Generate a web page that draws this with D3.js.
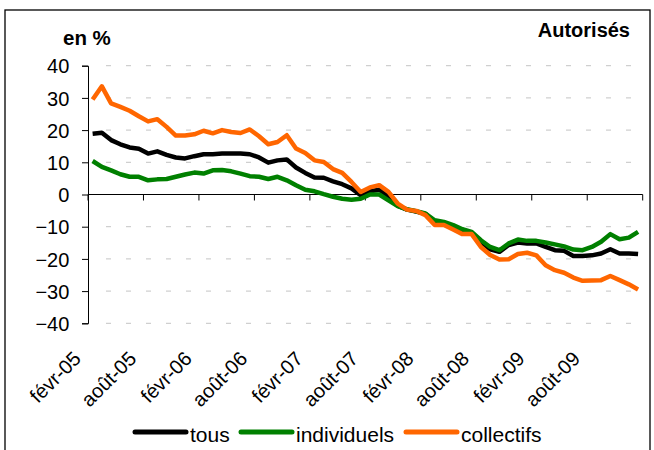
<!DOCTYPE html>
<html>
<head>
<meta charset="utf-8">
<script src="https://cdn.jsdelivr.net/npm/d3@7"></script>
<style>
  body { margin: 0; background: #fff; }
  text { font-family: Arial, "Liberation Sans", sans-serif; fill: #000; }
</style>
</head>
<body>
<svg width="654" height="450"></svg>
<script>
// monthly categories, févr-05 .. janv-10
const moisAbr = ['janv', 'févr', 'mars', 'avr', 'mai', 'juin', 'juil', 'août', 'sept', 'oct', 'nov', 'déc'];
const months = [];
for (let i = 0; i < 60; i++) {
  const m = (1 + i) % 12, yr = 5 + Math.floor((1 + i) / 12);
  months.push(moisAbr[m] + '-' + String(yr).padStart(2, '0'));
}
const tickLabels = ['févr-05', 'août-05', 'févr-06', 'août-06', 'févr-07', 'août-07', 'févr-08', 'août-08', 'févr-09', 'août-09'];
const yTicks = [40, 30, 20, 10, 0, -10, -20, -30, -40];

const tous = [18.9, 19.2, 16.9, 15.6, 14.6, 14.2, 12.7, 13.4, 12.3, 11.5,
  11.2, 11.9, 12.5, 12.5, 12.7, 12.7, 12.7, 12.5, 11.5, 9.9,
  10.6, 10.9, 8.4, 6.7, 5.3, 5.2, 4.1, 3.2, 1.9, -0.2,
  1.0, 1.5, -0.5, -3.5, -4.7, -5.3, -6.0, -8.5, -9.0, -10.0,
  -11.3, -12.0, -14.8, -17.0, -17.8, -15.7, -14.9, -15.2, -15.2, -16.3,
  -17.3, -17.5, -19.1, -19.1, -18.9, -18.3, -17.0, -18.3, -18.3, -18.5];
const individuels = [10.4, 8.6, 7.5, 6.3, 5.5, 5.5, 4.4, 4.7, 4.8, 5.5,
  6.2, 6.8, 6.5, 7.5, 7.6, 7.2, 6.5, 5.7, 5.5, 4.8,
  5.5, 4.4, 2.9, 1.5, 1.0, 0.1, -0.7, -1.3, -1.6, -1.3,
  0.0, 0.0, -1.8, -3.6, -4.6, -5.2, -5.9, -8.0, -8.5, -9.5,
  -10.8, -11.6, -14.2, -16.3, -17.3, -15.2, -14.0, -14.4, -14.4, -14.9,
  -15.5, -16.1, -17.1, -17.3, -16.3, -14.7, -12.3, -13.9, -13.4, -11.6];
const collectifs = [29.5, 33.6, 28.3, 27.2, 26.0, 24.3, 22.7, 23.4, 21.0, 18.3,
  18.3, 18.7, 19.8, 19.0, 20.0, 19.4, 19.1, 20.2, 18.1, 15.6,
  16.3, 18.4, 14.3, 12.9, 10.6, 10.1, 7.9, 6.7, 3.9, 0.8,
  2.2, 2.9, 0.8, -2.8, -4.7, -5.1, -6.4, -9.5, -9.5, -10.9,
  -12.3, -12.3, -16.3, -18.8, -20.2, -20.1, -18.5, -18.1, -18.9, -22.0,
  -23.5, -24.3, -25.8, -26.8, -26.7, -26.6, -25.3, -26.6, -27.9, -29.5];

const series = [
  { name: 'tous', values: tous, color: '#000000' },
  { name: 'individuels', values: individuels, color: '#008000' },
  { name: 'collectifs', values: collectifs, color: '#ff6600' }
];

const svg = d3.select('svg');

// outer frame
svg.append('rect')
  .attr('x', 5).attr('y', 10).attr('width', 645).attr('height', 460)
  .attr('fill', 'none').attr('stroke', '#000').attr('stroke-width', 1.3);

const x = d3.scaleBand().domain(months).range([88, 642.7]);
const y = d3.scaleLinear().domain([-40, 40]).range([323.3, 65.7]);
const cx = d => x(d) + x.bandwidth() / 2;

// gridlines
svg.append('g').selectAll('line')
  .data(yTicks.filter(d => d !== 0))
  .enter().append('line')
    .attr('x1', 106).attr('x2', 642.7)
    .attr('y1', d => y(d)).attr('y2', d => y(d))
    .attr('stroke', '#c4c4c4').attr('stroke-width', 1)
    .attr('stroke-dasharray', '5,15');

// y axis
const yAxis = svg.append('g')
  .attr('transform', 'translate(88,0)')
  .call(d3.axisLeft(y).tickValues(yTicks).tickSize(6).tickPadding(12.7).tickFormat(d3.format('d')));
yAxis.select('.domain').attr('stroke', '#000');
yAxis.selectAll('.tick line').attr('stroke', '#000');
yAxis.selectAll('text').style('font-size', '20px').attr('dy', '0.36em');

// x axis at zero
const tickIdx = d3.range(0, 61, 6);
const xa = svg.append('g');
xa.append('line')
  .attr('x1', 88).attr('x2', 642.7)
  .attr('y1', y(0)).attr('y2', y(0))
  .attr('stroke', '#000').attr('stroke-width', 1);
xa.selectAll('.tk')
  .data(tickIdx)
  .enter().append('line')
    .attr('class', 'tk')
    .attr('x1', i => i < 60 ? x(months[i]) : x.range()[1])
    .attr('x2', i => i < 60 ? x(months[i]) : x.range()[1])
    .attr('y1', y(0)).attr('y2', y(0) + 6)
    .attr('stroke', '#000');

// rotated category labels
svg.append('g').selectAll('text')
  .data(tickLabels)
  .enter().append('text')
    .attr('transform', d => 'translate(' + (cx(d) - 10.5) + ',360) rotate(-45)')
    .attr('text-anchor', 'end')
    .style('font-size', '20px')
    .text(d => d);

// lines
const line = d3.line()
  .x((d, i) => cx(months[i]))
  .y(d => y(d));

svg.append('g').selectAll('path')
  .data(series)
  .enter().append('path')
    .attr('d', d => line(d.values))
    .attr('fill', 'none')
    .attr('stroke', d => d.color)
    .attr('stroke-width', 4.5)
    .attr('stroke-linejoin', 'round');

// titles
svg.append('text').attr('x', 63).attr('y', 45)
  .style('font-size', '20.5px').style('font-weight', 'bold').text('en %');
svg.append('text').attr('x', 630).attr('y', 37).attr('text-anchor', 'end')
  .style('font-size', '20px').style('font-weight', 'bold').text('Autorisés');

// legend
const legendX = [135, 241, 406];
const lg = svg.append('g').selectAll('g')
  .data(series)
  .enter().append('g')
    .attr('transform', (d, i) => 'translate(' + legendX[i] + ',432)');
lg.append('line')
  .attr('x1', 0).attr('x2', 51)
  .attr('stroke', d => d.color).attr('stroke-width', 5)
  .attr('stroke-linecap', 'round');
lg.append('text')
  .attr('x', 55).attr('y', 9.7)
  .style('font-size', '21px')
  .text(d => d.name);
</script>
</body>
</html>
